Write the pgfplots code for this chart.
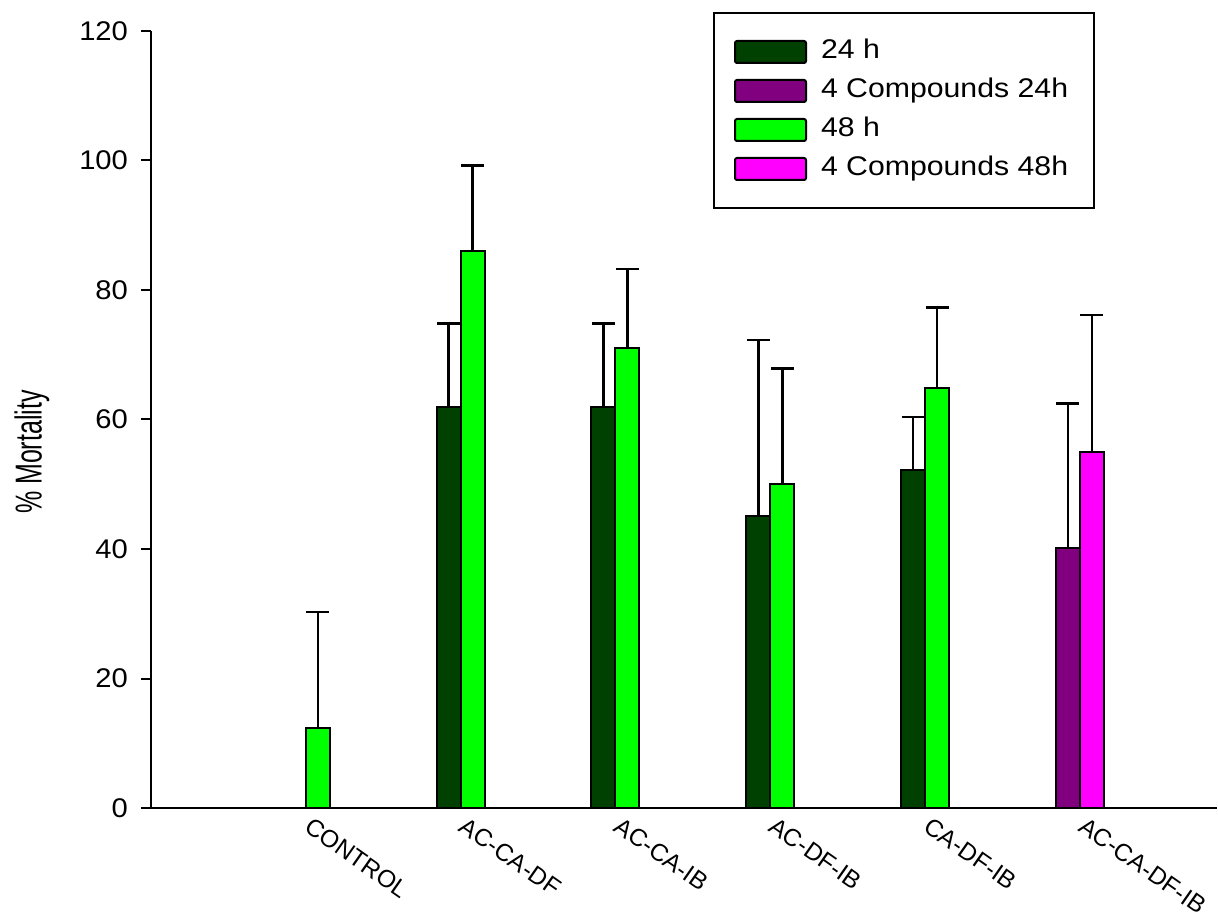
\documentclass[border=0pt]{standalone}
\usepackage{pgfplots}
\pgfplotsset{compat=1.18}
\usepackage{fontspec}
\setmainfont{Liberation Sans}
\newfontfamily\stretchfont[FakeStretch=1.12]{Liberation Sans}
\newfontfamily\tickfont[FakeStretch=1.08]{Liberation Sans}
\definecolor{dkgreen}{RGB}{0,64,0}
\definecolor{cpurple}{RGB}{128,0,128}
\definecolor{cgreen}{RGB}{0,255,0}
\definecolor{cmagenta}{RGB}{255,0,255}
\pgfplotsset{
  mybar/.style={ybar, bar width=0.155, bar shift=0pt, draw=black, line width=1pt,
    legend image code/.code={\draw[##1, line width=1pt, rounded corners=1pt] (0pt,-5.5pt) rectangle (35.5pt,5.5pt);},
    error bars/y dir=plus, error bars/y explicit,
    error bars/error bar style={line width=1.2pt, black},
    error bars/error mark options={rotate=90, mark size=5.75pt, line width=1.2pt, black}},
}
\begin{document}
\begin{tikzpicture}
\useasboundingbox (-75.5pt,-53pt) rectangle (533.5pt,404pt);
\begin{axis}[
  at={(0pt,0pt)}, anchor=south west,
  scale only axis, width=533pt, height=388.5pt,
  xmin=-1, xmax=5.885, ymin=0, ymax=120,
  axis lines=left,
  axis line style={-, line width=1.25pt},
  x axis line style={-}, y axis line style={-},
  xtick={0,1,2,3,4,5},
  xticklabels={CONTROL,AC-CA-DF,AC-CA-IB,AC-DF-IB,CA-DF-IB,AC-CA-DF-IB},
  major x tick style={draw=none},
  ytick={0,20,...,120},
  tick align=outside, major tick length=5pt,
  major y tick style={line width=1pt, black},
  /pgf/number format/assume math mode=true,
  yticklabel style={font=\tickfont\fontsize{13.5}{15}\selectfont, xshift=-3pt},
  xticklabel style={font=\fontsize{12.2}{15}\selectfont, xshift=3.5pt, yshift=1pt, rotate=-35, anchor=north west, inner sep=0pt},
  ylabel={\scalebox{1}[1.5]{\fontsize{12.5}{14}\selectfont \% Mortality}},
  ylabel style={at={(axis description cs:-0.1116,0.458)}, anchor=center},
  legend style={at={(axis description cs:0.5272,1.02445)}, anchor=north west,
    draw=black, line width=1pt, inner xsep=10pt, inner ysep=13pt,
    font=\stretchfont\fontsize{13.5}{16}\selectfont,
    row sep=6.5pt, column sep=7pt,
    nodes={inner sep=0pt, text height=10pt, text depth=3pt}},
  legend cell align=left,
]
\addplot[mybar, fill=dkgreen] coordinates {
  (0.9225,62) +- (0,12.8)
  (1.9225,62) +- (0,12.8)
  (2.9225,45.1) +- (0,27.2)
  (3.9225,52.2) +- (0,8.2)
};
\addlegendentry{24 h}
\addplot[mybar, fill=cpurple] coordinates {
  (4.9225,40.2) +- (0,22.3)
};
\addlegendentry{4 Compounds 24h}
\addplot[mybar, fill=cgreen] coordinates {
  (0.0775,12.4) +- (0,17.9)
  (1.0775,86) +- (0,13.2)
  (2.0775,71.1) +- (0,12.1)
  (3.0775,50) +- (0,17.9)
  (4.0775,64.9) +- (0,12.4)
};
\addlegendentry{48 h}
\addplot[mybar, fill=cmagenta] coordinates {
  (5.0775,55) +- (0,21.1)
};
\addlegendentry{4 Compounds 48h\kern3pt\null}
\end{axis}
\end{tikzpicture}
\end{document}
